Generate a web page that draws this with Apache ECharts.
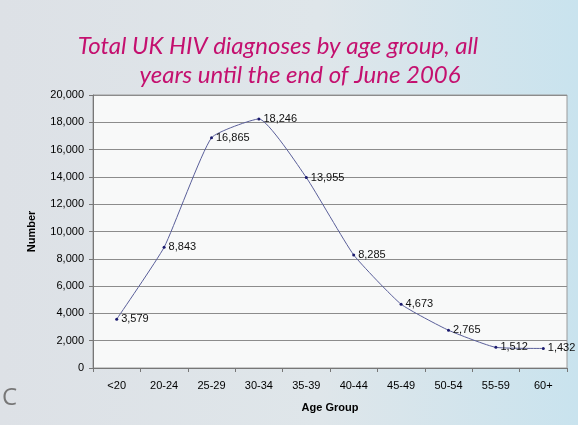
<!DOCTYPE html>
<html>
<head>
<meta charset="utf-8">
<style>
  html, body { margin: 0; padding: 0; }
  #chart { width: 578px; height: 425px; }
</style>
<script src="https://cdn.jsdelivr.net/npm/echarts@6/dist/echarts.min.js"></script>
</head>
<body>
<div id="chart"></div>
<script>
// data
const ageGroups = ["<20", "20-24", "25-29", "30-34", "35-39", "40-44", "45-49", "50-54", "55-59", "60+"];
const diagnoses = [3579, 8843, 16865, 18246, 13955, 8285, 4673, 2765, 1512, 1432];
const titleLines = ["Total UK HIV diagnoses by age group, all", "years until the end of June 2006"];

const chart = echarts.init(document.getElementById("chart"));

const titleStyle = {
  color: "#c4106f",
  fontFamily: "Lato",
  fontStyle: "italic",
  fontWeight: "normal",
  fontSize: 24
};

chart.setOption({
  animation: false,
  backgroundColor: {
    type: "linear", x: 0, y: 0, x2: 1, y2: 0,
    colorStops: [
      { offset: 0, color: "#dde1e6" },
      { offset: 0.55, color: "#dfe6ea" },
      { offset: 1, color: "#c9e3ee" }
    ]
  },
  title: [
    { text: titleLines[0], left: 273, top: 29, textAlign: "center", textStyle: titleStyle },
    { text: titleLines[1], left: 295, top: 58, textAlign: "center", textStyle: titleStyle }
  ],
  graphic: [
    {
      type: "text",
      left: 2,
      top: 386,
      style: { text: "C", fill: "#777", font: "24px 'Open Sans'" }
    }
  ],
  grid: {
    left: 93,
    right: 11,
    top: 95,
    bottom: 57,
    show: true,
    backgroundColor: "#f8f9f9",
    borderColor: "#9a9a9a",
    borderWidth: 1
  },
  xAxis: {
    type: "category",
    data: ageGroups,
    boundaryGap: true,
    name: "Age Group",
    nameLocation: "middle",
    nameGap: 34,
    nameTextStyle: { fontFamily: "Liberation Sans", fontWeight: "bold", fontSize: 11, color: "#000" },
    axisLine: { lineStyle: { color: "#777" } },
    axisTick: { show: true, alignWithLabel: false, length: 4, lineStyle: { color: "#777" } },
    axisLabel: { fontFamily: "Liberation Sans", fontSize: 11, color: "#000", margin: 12 }
  },
  yAxis: {
    type: "value",
    min: 0,
    max: 20000,
    interval: 2000,
    name: "Number",
    nameLocation: "middle",
    nameGap: 56,
    nameRotate: 90,
    nameTextStyle: { fontFamily: "Liberation Sans", fontWeight: "bold", fontSize: 11, color: "#000" },
    axisLine: { show: true, lineStyle: { color: "#777" } },
    axisTick: { show: true, length: 4, lineStyle: { color: "#777" } },
    axisLabel: {
      fontFamily: "Liberation Sans", fontSize: 11, color: "#000", margin: 9,
      formatter: v => v.toLocaleString("en-US")
    },
    splitLine: { lineStyle: { color: "#8c8c8c", width: 1 } }
  },
  series: [
    {
      type: "line",
      data: diagnoses,
      smooth: 0.15,
      symbol: "circle",
      symbolSize: 3,
      lineStyle: { color: "#5a5f9a", width: 1 },
      itemStyle: { color: "#1a1a6e" },
      label: {
        show: true,
        position: "right",
        distance: 3,
        fontFamily: "Liberation Sans",
        fontSize: 11,
        color: "#111",
        formatter: p => p.value.toLocaleString("en-US")
      }
    }
  ]
});
</script>
</body>
</html>
